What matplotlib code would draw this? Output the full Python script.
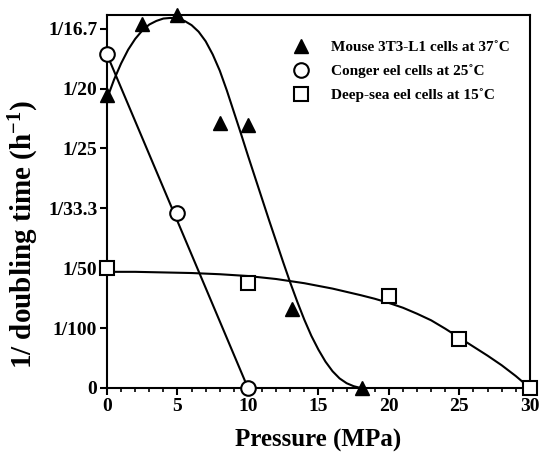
import matplotlib
matplotlib.use("Agg")
import matplotlib.pyplot as plt
from matplotlib.ticker import MultipleLocator

plt.rcParams['font.family'] = ['Liberation Serif', 'DejaVu Serif']
plt.rcParams['font.weight'] = 'bold'
plt.rcParams['mathtext.default'] = 'regular'

# Data (x in MPa, y = 1/doubling time in h^-1)
mouse_x = [0, 2.5, 5, 8, 10, 13.1, 18.1]
mouse_y = [0.0490, 0.0608, 0.0623, 0.0443, 0.0440, 0.0132, 0.0]
conger_x = [0, 5, 10]
conger_y = [0.0557, 0.0292, 0.0]
deep_x = [0, 10, 20, 25, 30]
deep_y = [0.0200, 0.0176, 0.0154, 0.0082, 0.0]

# Fitted curves
mouse_fit_x = [0, 0.5, 1.0, 1.5, 2.0, 2.5, 3.0, 3.5, 4.0, 4.5, 5.0, 5.5, 6.0,
               6.5, 7.0, 7.5, 8.0, 8.5, 9.0, 9.5, 10.0, 10.5, 11.0, 11.5,
               12.0, 12.5, 13.0, 13.5, 14.0, 14.5, 15.0, 15.5, 16.0, 16.5,
               17.0, 17.5, 18.0]
mouse_fit_y = [0.0483, 0.0515, 0.0542, 0.0565, 0.0583, 0.0597, 0.0607, 0.0613,
               0.0617, 0.0618, 0.0617, 0.0613, 0.0606, 0.0595, 0.0579, 0.0557,
               0.0530, 0.0497, 0.0461, 0.0425, 0.0388, 0.0352, 0.0316, 0.0280,
               0.0245, 0.0210, 0.0176, 0.0144, 0.0114, 0.0087, 0.0064, 0.0044,
               0.0028, 0.0016, 0.0008, 0.0003, 0.0]
conger_fit_x = [0, 10]
conger_fit_y = [0.0557, 0.0]
deep_fit_x = [0, 2, 4, 6, 8, 10, 12, 14, 16, 18, 19, 20, 21, 22, 23, 24, 25,
              26, 27, 28, 29, 30]
deep_fit_y = [0.0194, 0.0194, 0.0193, 0.0192, 0.0190, 0.0187, 0.0182, 0.0175,
              0.0166, 0.0155, 0.0149, 0.0142, 0.0134, 0.0124, 0.0113, 0.0099,
              0.0084, 0.0069, 0.0054, 0.0038, 0.0020, 0.0]

yticks = [0, 0.01, 0.02, 0.03, 0.04, 0.05, 0.06]
ytick_labels = ['0', '1/100', '1/50', '1/33.3', '1/25', '1/20', '1/16.7']
xticks = [0, 5, 10, 15, 20, 25, 30]

fig = plt.figure(figsize=(5.44, 4.53), dpi=100)
ax = fig.add_axes([0.1967, 0.1435, 0.7773, 0.8235])

lw = 1.5
ax.plot(mouse_fit_x, mouse_fit_y, color='black', lw=lw, zorder=2)
ax.plot(conger_fit_x, conger_fit_y, color='black', lw=lw, zorder=2)
ax.plot(deep_fit_x, deep_fit_y, color='black', lw=lw, zorder=2)

ax.plot(mouse_x, mouse_y, linestyle='none', marker='^', markersize=10,
        color='black', clip_on=False, zorder=3,
        label='Mouse 3T3-L1 cells at 37\u02daC')
ax.plot(conger_x, conger_y, linestyle='none', marker='o', markersize=10.5,
        markerfacecolor='white', markeredgecolor='black', markeredgewidth=1.5,
        clip_on=False, zorder=3, label='Conger eel cells at 25\u02daC')
ax.plot(deep_x, deep_y, linestyle='none', marker='s', markersize=9.5,
        markerfacecolor='white', markeredgecolor='black', markeredgewidth=1.5,
        clip_on=False, zorder=3, label='Deep-sea eel cells at 15\u02daC')

ax.set_xlim(0, 30)
ax.set_ylim(0, 0.0623)
ax.set_xticks(xticks)
ax.set_xticklabels([str(v) for v in xticks])
ax.xaxis.set_minor_locator(MultipleLocator(1))
ax.set_yticks(yticks)
ax.set_yticklabels(ytick_labels)

for s in ax.spines.values():
    s.set_linewidth(1.5)
ax.tick_params(axis='both', which='major', direction='out', length=5, width=1.5,
               labelsize=14, pad=2)
ax.tick_params(axis='x', which='minor', direction='out', length=3, width=1.2)
for lab in ax.get_xticklabels() + ax.get_yticklabels():
    lab.set_fontweight('bold')

ax.set_xlabel('Pressure (MPa)', fontsize=18, fontweight='bold', labelpad=10)
ax.set_ylabel('1/ doubling time (h$^{-1}$)', fontsize=21, fontweight='bold')
ax.yaxis.set_label_coords(-0.156, 0.41)

leg = ax.legend(loc='upper right', bbox_to_anchor=(0.986, 0.969), frameon=False,
                prop={'family': 'Liberation Serif', 'weight': 'bold', 'size': 11},
                handletextpad=1.4, labelspacing=0.68, handlelength=1.2)

fig.savefig('out.png', dpi=100)
